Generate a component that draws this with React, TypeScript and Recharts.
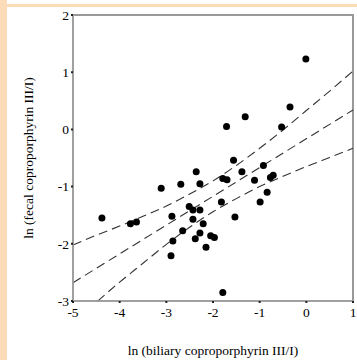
import React from "react";
import {
  ComposedChart,
  Scatter,
  Line,
  XAxis,
  YAxis,
  ReferenceArea,
} from "recharts";

// ln (biliary III/I) and ln (fecal III/I) per subject
const biliary = [
  -0.01, -0.35, -1.31, -1.71, -0.53, -1.56, -0.92, -2.36, -1.38, -2.69,
  -2.28, -1.79, -1.7, -1.11, -0.77, -0.71, -0.84, -3.11, -1.82, -0.99,
  -2.51, -2.43, -2.28, -2.88, -4.38, -1.53, -2.43, -3.77, -3.64, -2.21,
  -2.65, -2.28, -2.86, -2.38, -2.05, -1.97, -2.15, -2.9, -1.79,
];
const fecal = [
  1.23, 0.39, 0.22, 0.05, 0.04, -0.54, -0.63, -0.74, -0.74, -0.96,
  -0.95, -0.86, -0.88, -0.89, -0.84, -0.8, -1.1, -1.03, -1.27, -1.27,
  -1.35, -1.41, -1.41, -1.52, -1.55, -1.53, -1.57, -1.65, -1.62, -1.65,
  -1.77, -1.81, -1.95, -1.91, -1.86, -1.89, -2.06, -2.21, -2.85,
];

// regression line and confidence band
const fitX = [-5, 1];
const fitY = [-2.68, 0.34];
const upperX = [-5, -4.5, -4, -3.5, -3, -2.5, -2, -1.5, -1, -0.5, 0, 0.5, 1];
const upperY = [-2.02, -1.85, -1.69, -1.52, -1.34, -1.13, -0.9, -0.63, -0.33, -0.01, 0.33, 0.67, 1.02];
const lowerX = [-4.47, -4, -3.5, -3, -2.5, -2, -1.5, -1, -0.5, 0, 0.5, 1];
const lowerY = [-3.0, -2.67, -2.34, -2.01, -1.71, -1.44, -1.21, -1.0, -0.82, -0.65, -0.49, -0.33];

const xTicks = [-5, -4, -3, -2, -1, 0, 1];
const yTicks = [-3, -2, -1, 0, 1, 2];

const points = biliary.map((x, i) => ({ x, y: fecal[i] }));
const fit = fitX.map((x, i) => ({ x, y: fitY[i] }));
const upper = upperX.map((x, i) => ({ x, y: upperY[i] }));
const lower = lowerX.map((x, i) => ({ x, y: lowerY[i] }));

const font = "'Liberation Serif', 'Times New Roman', serif";
const axisGray = "#a3a3a3";
const dash = "9 5";

const Dot = (props: { cx?: number; cy?: number }) => {
  const { cx, cy } = props;
  if (cx == null || cy == null) return null;
  return <circle cx={cx} cy={cy} r={3.5} fill="#000" />;
};

export default function App() {
  return (
    <div
      style={{
        position: "fixed",
        left: 0,
        top: 0,
        width: 357,
        height: 360,
        background: "#fff",
        overflow: "hidden",
      }}
    >
      <div style={{ position: "absolute", left: 0, top: 0, width: 7, height: 360, background: "#fcdcb8" }} />
      <div style={{ position: "absolute", left: 0, top: 4, width: 357, height: 3, background: "#fcdcb8" }} />
      <ComposedChart
        width={357}
        height={360}
        margin={{ top: 15, right: 4, bottom: 0, left: 0 }}
        style={{ position: "absolute", left: 0, top: 0 }}
      >
        <XAxis
          type="number"
          dataKey="x"
          domain={[-5, 1]}
          ticks={xTicks}
          interval={0}
          height={59}
          axisLine={{ stroke: axisGray, strokeWidth: 1.5 }}
          tickLine={{ stroke: "#222", strokeWidth: 2 }}
          tickSize={2}
          tick={{ fill: "#000", fontSize: 13.5, fontFamily: font, dy: 2 }}
          label={{
            value: "ln (biliary coproporphyrin III/I)",
            position: "insideBottom",
            offset: 5,
            style: { fill: "#000", fontSize: 13.5, fontFamily: font },
          }}
        />
        <YAxis
          type="number"
          dataKey="y"
          domain={[-3, 2]}
          ticks={yTicks}
          interval={0}
          width={73}
          axisLine={{ stroke: axisGray, strokeWidth: 1.5 }}
          tickLine={{ stroke: "#222", strokeWidth: 2 }}
          tickSize={2}
          tick={{ fill: "#000", fontSize: 13.5, fontFamily: font }}
          label={{
            value: "ln (fecal coproporphyrin III/I)",
            angle: -90,
            position: "insideLeft",
            offset: 28,
            style: { fill: "#000", fontSize: 13.5, fontFamily: font, textAnchor: "middle" },
          }}
        />
        <ReferenceArea x1={-5} x2={1} y1={-3} y2={2} fill="none" stroke="#999" strokeWidth={2} />
        <Line data={upper} dataKey="y" type="monotone" stroke="#333" strokeWidth={1.1} strokeDasharray={dash} dot={false} isAnimationActive={false} />
        <Line data={fit} dataKey="y" type="linear" stroke="#333" strokeWidth={1.1} strokeDasharray={dash} dot={false} isAnimationActive={false} />
        <Line data={lower} dataKey="y" type="monotone" stroke="#333" strokeWidth={1.1} strokeDasharray={dash} dot={false} isAnimationActive={false} />
        <Scatter data={points} dataKey="y" shape={Dot} isAnimationActive={false} />
      </ComposedChart>
    </div>
  );
}
